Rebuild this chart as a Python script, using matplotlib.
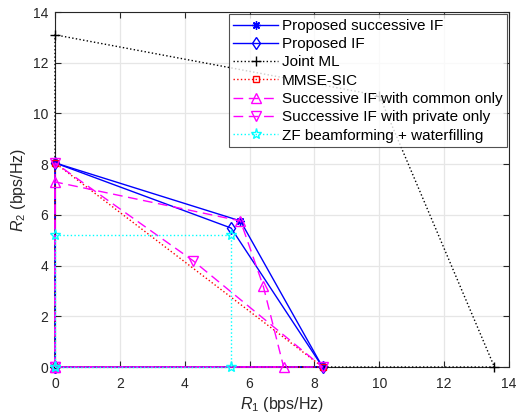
import matplotlib
matplotlib.use('Agg')
import matplotlib.pyplot as plt

plt.rcParams['font.family'] = ['Liberation Sans', 'DejaVu Sans']
plt.rcParams['mathtext.fontset'] = 'custom'
plt.rcParams['mathtext.it'] = 'Liberation Sans:italic'
plt.rcParams['mathtext.rm'] = 'Liberation Sans'

# Rate region vertices (R1, R2) for each scheme
succ_if_r1 = [0, 0, 5.72, 8.25, 0]
succ_if_r2 = [0, 8.05, 5.76, 0, 0]

prop_if_r1 = [0, 0, 5.43, 8.25, 0]
prop_if_r2 = [0, 8.05, 5.48, 0, 0]

joint_ml_r1 = [0, 0, 10.0, 13.55, 0]
joint_ml_r2 = [0, 13.1, 10.7, 0, 0]

mmse_sic_r1 = [0, 0, 8.25, 0]
mmse_sic_r2 = [0, 8.05, 0, 0]

common_r1 = [0, 0, 5.72, 6.42, 7.05, 0]
common_r2 = [0, 7.3, 5.76, 3.2, 0, 0]

private_r1 = [0, 0, 4.25, 8.25, 0]
private_r2 = [0, 8.05, 4.2, 0, 0]

zf_r1 = [0, 0, 5.42, 5.42, 0]
zf_r2 = [0, 5.22, 5.22, 0, 0]

labels = ['Proposed successive IF', 'Proposed IF', 'Joint ML', 'MMSE-SIC',
          'Successive IF with common only', 'Successive IF with private only',
          'ZF beamforming + waterfilling']

fig = plt.figure(figsize=(5.17, 4.15), dpi=100)
ax = fig.add_axes([55 / 517, 1 - 367 / 415, 454 / 517, 355 / 415])

ms = 6
kw = dict(lw=1, clip_on=False, zorder=3)
ax.plot(succ_if_r1, succ_if_r2, '-', color='#0000ff', marker=(8, 2, 0), ms=ms, label=labels[0], **kw)
ax.plot(prop_if_r1, prop_if_r2, '-', color='#0000ff', marker='d', mfc='none', ms=ms, label=labels[1], **kw)
ax.plot(joint_ml_r1, joint_ml_r2, ':', color='black', marker='+', ms=ms + 1, label=labels[2], **kw)
ax.plot(mmse_sic_r1, mmse_sic_r2, ':', color='#ff0000', marker='s', mfc='none', ms=ms - 1, label=labels[3], **kw)
ax.plot(common_r1, common_r2, '--', color='#ff00ff', marker='^', mfc='none', ms=ms + 1,
        dashes=(7, 4), label=labels[4], **kw)
ax.plot(private_r1, private_r2, '--', color='#ff00ff', marker='v', mfc='none', ms=ms + 1,
        dashes=(7, 4), label=labels[5], **kw)
ax.plot(zf_r1, zf_r2, ':', color='#00ffff', marker='*', mfc='none', ms=ms + 2, label=labels[6], **kw)

ax.set_xlim(0, 14)
ax.set_ylim(0, 14)
ax.set_xticks(range(0, 15, 2))
ax.set_yticks(range(0, 15, 2))
ax.grid(True, color='#e6e6e6', lw=0.9)
ax.set_axisbelow(True)
ax.tick_params(direction='in', top=True, right=True, labelsize=10, colors='#262626', length=4)
ax.tick_params(axis='x', pad=7)
ax.tick_params(axis='y', pad=5)
for s in ax.spines.values():
    s.set_color('#262626')
    s.set_linewidth(0.8)

ax.set_xlabel(r'$R_1$ (bps/Hz)', fontsize=11.5, color='#262626', labelpad=3)
ax.set_ylabel(r'$R_2$ (bps/Hz)', fontsize=11.5, color='#262626', labelpad=3)

leg = ax.legend(loc='upper right', fontsize=11, frameon=True, fancybox=False,
                edgecolor='#262626', borderaxespad=0.15, labelspacing=0.28,
                handlelength=2.9, handletextpad=0.25, borderpad=0.3)
leg.get_frame().set_linewidth(0.8)
leg.set_zorder(5)

fig.savefig('out.png', dpi=100)
